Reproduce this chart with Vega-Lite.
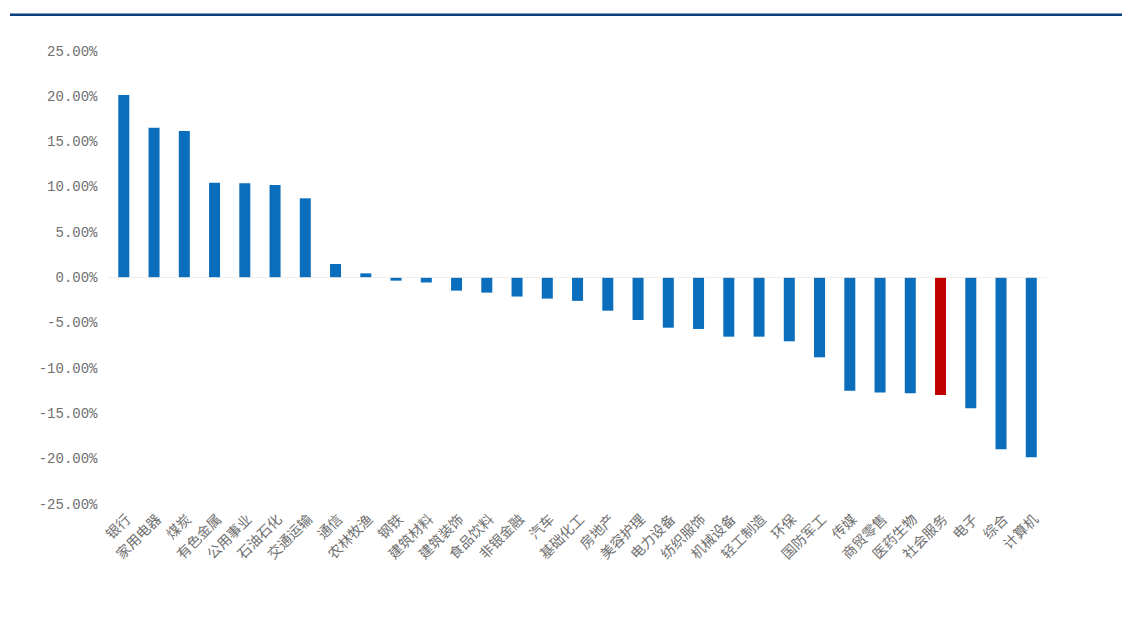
{
  "$schema": "https://vega.github.io/schema/vega-lite/v6.json",
  "width": 1112,
  "height": 453,
  "autosize": {"type": "none"},
  "padding": {"left": 10, "top": 51, "right": 6, "bottom": 128},
  "background": "white",
  "config": {"view": {"stroke": null}},
  "data": {
    "values": [
      {"industry": "银行", "change": 0.2014},
      {"industry": "家用电器", "change": 0.1653},
      {"industry": "煤炭", "change": 0.1617},
      {"industry": "有色金属", "change": 0.1046},
      {"industry": "公用事业", "change": 0.1040},
      {"industry": "石油石化", "change": 0.1021},
      {"industry": "交通运输", "change": 0.0874},
      {"industry": "通信", "change": 0.0149},
      {"industry": "农林牧渔", "change": 0.0046},
      {"industry": "钢铁", "change": -0.0035},
      {"industry": "建筑材料", "change": -0.0055},
      {"industry": "建筑装饰", "change": -0.0145},
      {"industry": "食品饮料", "change": -0.0167},
      {"industry": "非银金融", "change": -0.0210},
      {"industry": "汽车", "change": -0.0233},
      {"industry": "基础化工", "change": -0.0258},
      {"industry": "房地产", "change": -0.0366},
      {"industry": "美容护理", "change": -0.0469},
      {"industry": "电力设备", "change": -0.0554},
      {"industry": "纺织服饰", "change": -0.0568},
      {"industry": "机械设备", "change": -0.0653},
      {"industry": "轻工制造", "change": -0.0653},
      {"industry": "环保", "change": -0.0704},
      {"industry": "国防军工", "change": -0.0881},
      {"industry": "传媒", "change": -0.1249},
      {"industry": "商贸零售", "change": -0.1270},
      {"industry": "医药生物", "change": -0.1278},
      {"industry": "社会服务", "change": -0.1297},
      {"industry": "电子", "change": -0.1444},
      {"industry": "综合", "change": -0.1896},
      {"industry": "计算机", "change": -0.1985}
    ]
  },
  "layer": [
    {
      "mark": {"type": "bar"},
      "encoding": {
        "x": {
          "field": "industry",
          "type": "nominal",
          "sort": null,
          "scale": {"range": [108.3, 1026.8], "paddingInner": 0.636, "paddingOuter": 0},
          "axis": {
            "title": null,
            "labelAngle": -45,
            "ticks": false,
            "domain": false,
            "labelPadding": 8,
            "labelFont": "Noto Sans CJK SC",
            "labelFontSize": 14,
            "labelColor": "#707070"
          }
        },
        "y": {
          "field": "change",
          "type": "quantitative",
          "scale": {"domain": [-0.25, 0.25], "nice": false, "zero": false},
          "axis": {
            "title": null,
            "values": [-0.25, -0.2, -0.15, -0.1, -0.05, 0, 0.05, 0.1, 0.15, 0.2, 0.25],
            "labelExpr": "replace(format(datum.value, '.2%'), '\u2212', '-')",
            "grid": false,
            "domain": false,
            "ticks": false,
            "offset": -98,
            "labelPadding": 11,
            "labelFont": "Liberation Mono",
            "labelFontSize": 14,
            "labelColor": "#707070"
          }
        },
        "color": {
          "condition": {"test": "datum.industry === '社会服务'", "value": "#c00000"},
          "value": "#0a6ebd"
        }
      }
    },
    {
      "mark": {"type": "tick", "orient": "horizontal", "color": "#ebe5de", "thickness": 1, "size": 30.4},
      "encoding": {
        "x": {"field": "industry", "type": "nominal", "sort": null},
        "y": {"datum": 0, "type": "quantitative"}
      }
    },
    {
      "data": {"values": [{}]},
      "mark": {"type": "rule", "color": "#0b3c7c", "strokeWidth": 2.5},
      "encoding": {"y": {"datum": 0.29, "type": "quantitative"}}
    }
  ]
}
